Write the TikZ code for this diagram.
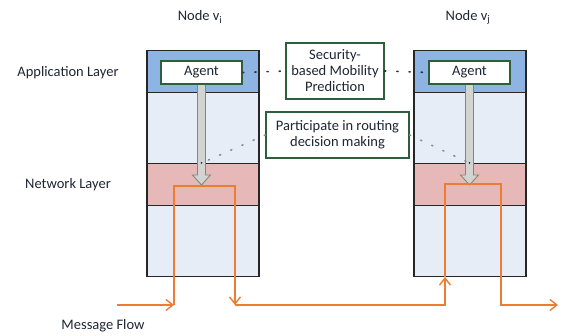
\documentclass[tikz,border=0pt]{standalone}
\usepackage{fontspec}
\setmainfont{Carlito}
\usetikzlibrary{arrows.meta}
\definecolor{appblue}{HTML}{8EB4E3}
\definecolor{paleblue}{HTML}{E6EDF7}
\definecolor{netpink}{HTML}{E6B9B8}
\definecolor{boxgreen}{HTML}{2F5E3C}
\definecolor{flowor}{HTML}{ED7D31}
\definecolor{inkc}{HTML}{1E2633}
\definecolor{pipefill}{HTML}{D2D4D2}
\definecolor{pipeedge}{HTML}{7C8A7C}
\tikzset{
  x=1pt, y=-1pt,
  txt/.style={font=\fontsize{14.5}{16}\selectfont, text=inkc, inner sep=0pt, align=center},
  layer/.style={draw=black!85, line width=1.5pt, inner sep=0pt, anchor=north west,
                minimum width=112pt, minimum height=#1},
  greenbox/.style={draw=boxgreen, line width=1.3pt, fill=white, inner sep=0pt,
                   font=\fontsize{14.5}{16}\selectfont, text=inkc, align=center},
  dotline/.style={line width=1.6pt, dash pattern=on 1.2pt off 11pt, line cap=round},
  flow/.style={draw=flowor, line width=1.6pt, line join=miter},
  tip/.style={-{Straight Barb[length=7pt,width=11pt,line width=1.4pt]}},
}
\newcommand{\pipe}[3]{% x, top y, bottom y
  \draw[fill=pipefill, draw=pipeedge, line width=0.9pt]
    (#1-4,#2) -- (#1+4,#2) -- (#1+4,#3-10) -- (#1+9,#3-10) -- (#1,#3)
    -- (#1-9,#3-10) -- (#1-4,#3-10) -- cycle;}
\begin{document}
\begin{tikzpicture}
\useasboundingbox (0,0) rectangle (563,336);

% protocol stack of node v_i
\node[layer=42pt, fill=appblue]  (iapp) at (146,50) {};
\node[layer=71pt, fill=paleblue] (imid) at (146,92) {};
\node[layer=42pt, fill=netpink]  (inet) at (146,163) {};
\node[layer=71pt, fill=paleblue] (ibot) at (146,205) {};

% protocol stack of node v_j
\node[layer=42pt, fill=appblue]  (japp) at (413,50) {};
\node[layer=71pt, fill=paleblue] (jmid) at (413,92) {};
\node[layer=42pt, fill=netpink]  (jnet) at (413,163) {};
\node[layer=71pt, fill=paleblue] (jbot) at (413,205) {};

% agents and the pipes down to the network layer
\pipe{201.5}{84}{185}
\pipe{469.5}{84}{185}
\node[greenbox, minimum width=81pt, minimum height=23pt] (iagent) at (201.5,72.5) {Agent};
\node[greenbox, minimum width=81pt, minimum height=23pt] (jagent) at (469.5,72.5) {Agent};

% annotation boxes
\node[greenbox, minimum width=98pt, minimum height=56pt] (sec) at (335,71)
  {Security-\\based Mobility\\Prediction};
\node[greenbox, minimum width=143pt, minimum height=46pt] (part) at (337.5,135)
  {Participate in routing\\decision making};

\coordinate (ihit) at (201.5,163);
\coordinate (jhit) at (469.5,163);
\draw[dotline, black!80] (iagent.east) -- (sec.west);
\draw[dotline, black!80] (sec.east) -- (jagent.west);
\draw[dotline, black!45] (part.west) -- (ihit);
\draw[dotline, black!45] (part.east) -- (jhit);
\fill[black!80] (ihit) circle (1pt) (jhit) circle (1pt);

% message flow
\coordinate (m0) at (117,305);
\coordinate (m1) at (174,305);
\coordinate (m2) at (174,186);
\coordinate (m3) at (235,186);
\coordinate (m4) at (235,305);
\coordinate (m5) at (445,305);
\coordinate (m6) at (445,277);
\coordinate (m7) at (445,184);
\coordinate (m8) at (501,184);
\coordinate (m9) at (501,305);
\coordinate (m10) at (558,305);
\draw[flow, tip] (m0) -- (m1);
\draw[flow, tip] (m1) -- (m2) -- (m3) -- (m4);
\draw[flow, tip] (m4) -- (m5) -- (m6);
\draw[flow, tip] (m6) -- (m7) -- (m8) -- (m9) -- (m10);

% labels
\node[txt] (ti) at (200,17) {Node v\textsubscript{i}};
\node[txt] (tj) at (468,17) {Node v\textsubscript{j}};
\node[txt] (lapp) at (68,73) {Application Layer};
\node[txt] (lnet) at (68,185) {Network Layer};
\node[txt] (lmsg) at (103,326) {Message Flow};
\end{tikzpicture}
\end{document}
